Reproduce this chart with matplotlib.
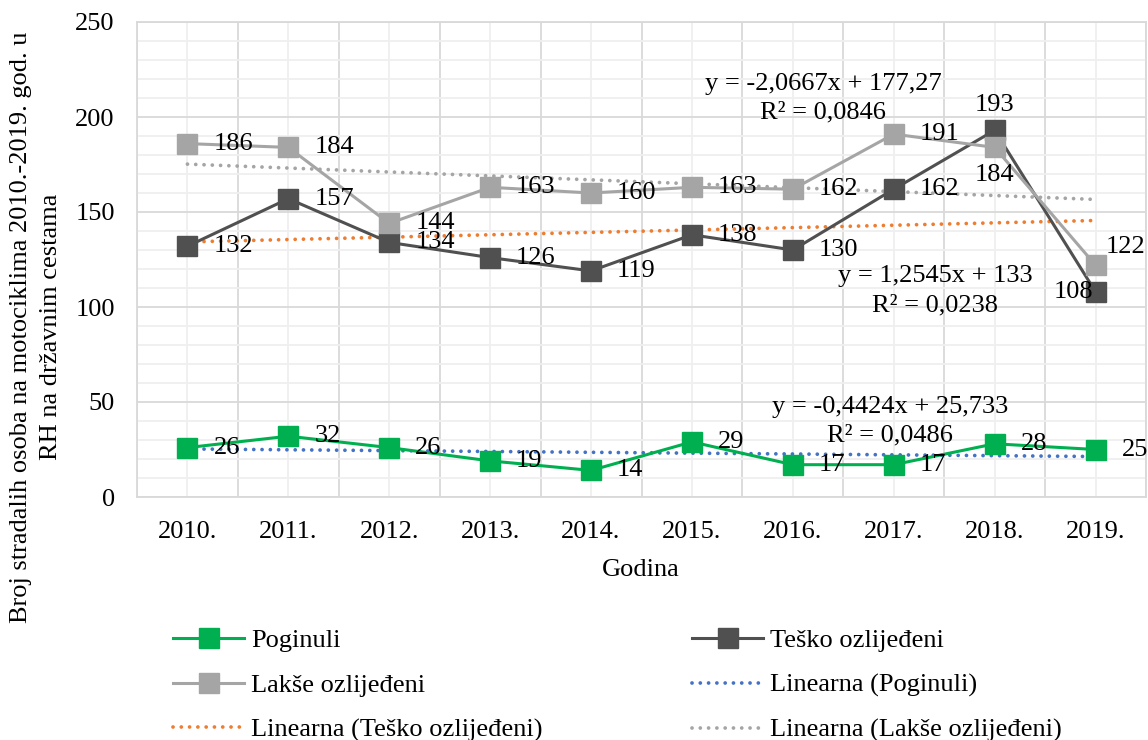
import numpy as np
import matplotlib
matplotlib.use('Agg')
import matplotlib.pyplot as plt
from matplotlib.ticker import MultipleLocator

plt.rcParams['font.family'] = ['Liberation Serif', 'DejaVu Serif']

godine = ['2010.', '2011.', '2012.', '2013.', '2014.',
          '2015.', '2016.', '2017.', '2018.', '2019.']
poginuli = [26, 32, 26, 19, 14, 29, 17, 17, 28, 25]
tesko = [132, 157, 134, 126, 119, 138, 130, 162, 193, 108]
lakse = [186, 184, 144, 163, 160, 163, 162, 191, 184, 122]

eq_poginuli = 'y = -0,4424x + 25,733\nR² = 0,0486'
eq_tesko = 'y = 1,2545x + 133\nR² = 0,0238'
eq_lakse = 'y = -2,0667x + 177,27\nR² = 0,0846'

c_pog, c_tes, c_lak = '#00B050', '#505050', '#A5A5A5'
c_tr_pog, c_tr_tes, c_tr_lak = '#4472C4', '#ED7D31', '#A5A5A5'

fig = plt.figure(figsize=(11.48, 7.4), dpi=100)
ax = fig.add_axes([137/1148, 1 - 497/740, 1009/1148, 475/740])

x = np.arange(len(godine))

# trend lines first (under the series)
handles = {}
for vals, col, name in [(poginuli, c_tr_pog, 'Linearna (Poginuli)'),
                        (tesko, c_tr_tes, 'Linearna (Teško ozlijeđeni)'),
                        (lakse, c_tr_lak, 'Linearna (Lakše ozlijeđeni)')]:
    k, n = np.polyfit(x, vals, 1)
    h, = ax.plot(x, k * x + n, linestyle=(0, (0.01, 2.2)), color=col, lw=2.7,
                 dash_capstyle='round', zorder=2, label=name)
    handles[name] = h

for vals, col, name in [(poginuli, c_pog, 'Poginuli'),
                        (tesko, c_tes, 'Teško ozlijeđeni'),
                        (lakse, c_lak, 'Lakše ozlijeđeni')]:
    h, = ax.plot(x, vals, color=col, lw=2.2, marker='s', markersize=14,
                 zorder=3, label=name)
    handles[name] = h

# data labels, mostly to the right of the marker
special = {('t', 8): (0, 18, 'center'), ('l', 8): (0, -20, 'center'),
           ('t', 9): (-16, 0, 'center'), ('l', 9): (7, 13, 'left')}
for key, vals in [('p', poginuli), ('t', tesko), ('l', lakse)]:
    for i, v in enumerate(vals):
        dx, dy, ha = special.get((key, i), (18.7, 0, 'left'))
        ax.annotate(str(v), (x[i], v), xytext=(dx, dy), textcoords='offset points',
                    ha=ha, va='center', fontsize=19, zorder=5)

ax.text(6.30, 210.0, eq_lakse, ha='center', va='center', fontsize=19,
        linespacing=1.4, multialignment='center')
ax.text(7.41, 108.5, eq_tesko, ha='center', va='center', fontsize=19,
        linespacing=1.4, multialignment='center')
ax.text(6.96, 40, eq_poginuli, ha='center', va='center', fontsize=19,
        linespacing=1.4, multialignment='center')

ax.set_xlim(-0.5, len(godine) - 0.5)
ax.set_ylim(0, 250)
ax.set_xticks(x)
ax.set_xticklabels(godine)
ax.set_xticks(np.arange(-0.5, len(godine)), minor=True)
ax.yaxis.set_major_locator(MultipleLocator(50))
ax.yaxis.set_minor_locator(MultipleLocator(10))
ax.tick_params(axis='both', which='both', length=0, labelsize=19)
ax.tick_params(axis='y', pad=16)
ax.tick_params(axis='x', pad=17)

# grid: darker lines at category boundaries, lighter at centres
ax.grid(True, axis='y', which='major', color='#D9D9D9', lw=1.3)
ax.grid(True, axis='y', which='minor', color='#EFEFEF', lw=1.3)
ax.grid(True, axis='x', which='minor', color='#D9D9D9', lw=1.3)
ax.grid(True, axis='x', which='major', color='#EFEFEF', lw=1.3)
ax.set_axisbelow(True)
for s in ax.spines.values():
    s.set_color('#D9D9D9')
    s.set_linewidth(1.3)

fig.text(641/1148, 1 - 570/740, 'Godina', ha='center', va='center', fontsize=19)
fig.text(36/1148, 1 - 327/740,
         'Broj stradalih osoba na motociklima 2010.-2019. god. u\nRH na državnim cestama',
         rotation=90, ha='center', va='center', fontsize=19,
         multialignment='center', linespacing=1.45)

leg_kw = dict(loc='upper left', frameon=False, fontsize=19, borderpad=0,
              borderaxespad=0, handlelength=2.7, handletextpad=0.27,
              labelspacing=0.8)
l1 = [handles[n] for n in ['Poginuli', 'Lakše ozlijeđeni', 'Linearna (Teško ozlijeđeni)']]
l2 = [handles[n] for n in ['Teško ozlijeđeni', 'Linearna (Poginuli)', 'Linearna (Lakše ozlijeđeni)']]
leg1 = fig.legend(l1, [h.get_label() for h in l1],
                  bbox_to_anchor=(173/1148, 1 - 629/740), **leg_kw)
leg2 = fig.legend(l2, [h.get_label() for h in l2],
                  bbox_to_anchor=(692/1148, 1 - 629/740), **leg_kw)

fig.savefig('out.png', dpi=100)
